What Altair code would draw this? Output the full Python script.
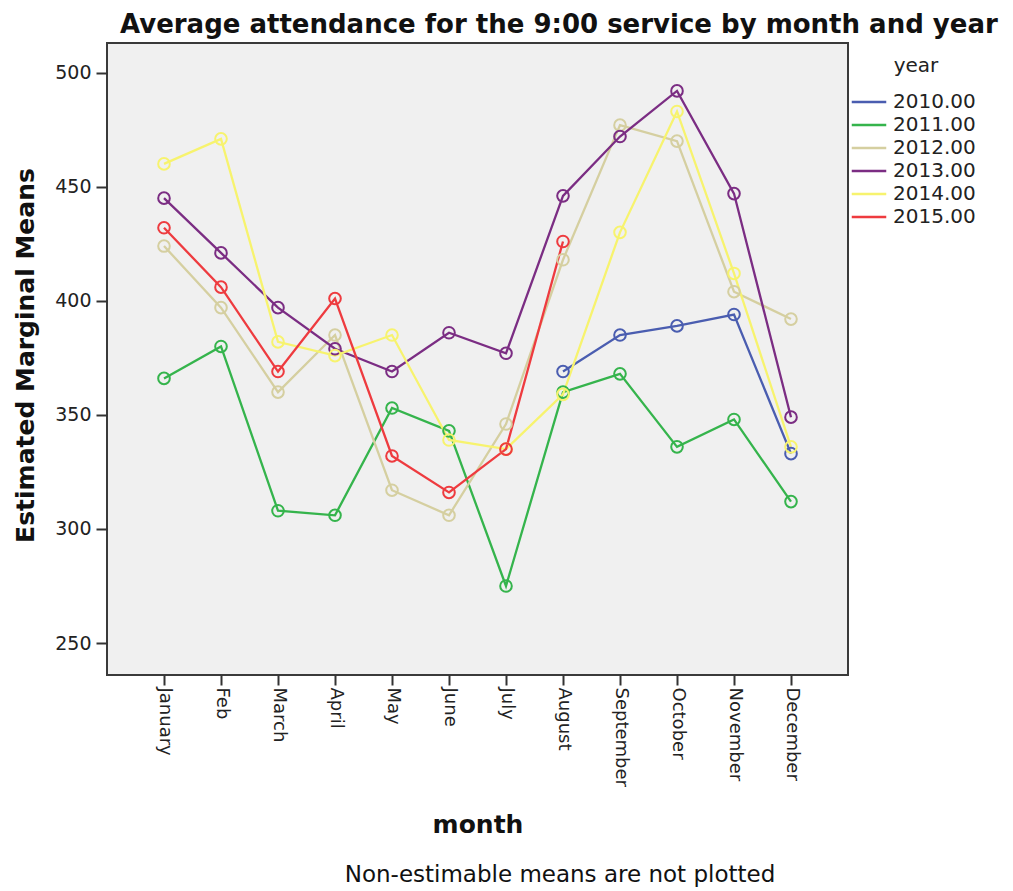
import altair as alt
import pandas as pd

months = ["January", "Feb", "March", "April", "May", "June", "July",
          "August", "September", "October", "November", "December"]
years = ["2010.00", "2011.00", "2012.00", "2013.00", "2014.00", "2015.00"]
colors = ["#4a5db0", "#35b44c", "#d5cfa0", "#7b2d83", "#f7f36e", "#ee3b3f"]

y2010 = [None, None, None, None, None, None, None, 369, 385, 389, 394, 333]
y2011 = [366, 380, 308, 306, 353, 343, 275, 360, 368, 336, 348, 312]
y2012 = [424, 397, 360, 385, 317, 306, 346, 418, 477, 470, 404, 392]
y2013 = [445, 421, 397, 379, 369, 386, 377, 446, 472, 492, 447, 349]
y2014 = [460, 471, 382, 376, 385, 339, 335, 359, 430, 483, 412, 336]
y2015 = [432, 406, 369, 401, 332, 316, 335, 426, None, None, None, None]

y_ticks = [250, 300, 350, 400, 450, 500]
title_text = "Average attendance for the 9:00 service by month and year"
note_text = "Non-estimable means are not plotted"

series = [y2010, y2011, y2012, y2013, y2014, y2015]
rows = []
for yr, vals in zip(years, series):
    for m, v in zip(months, vals):
        if v is not None:
            rows.append({"month": m, "year": yr, "mean": v})
df = pd.DataFrame(rows)

FONT = "DejaVu Sans"

x_enc = alt.X("month:N", sort=months,
              scale=alt.Scale(type="point", padding=1.175),
              axis=alt.Axis(title="month", labelAngle=90, labelAlign="left",
                            labelBaseline="middle", labelFontSize=18,
                            labelPadding=2, tickSize=10, domain=False,
                            titleFontSize=25, titleFontWeight="bold",
                            titleBaseline="alphabetic", titleY=157))
y_enc = alt.Y("mean:Q", scale=alt.Scale(domain=[236, 513], nice=False, zero=False),
              axis=alt.Axis(title="Estimated Marginal Means", values=y_ticks,
                            labelFontSize=19, labelPadding=5, tickSize=11,
                            domain=False, grid=False,
                            titleFontSize=25, titleFontWeight="bold",
                            titleX=-82, titleY=312, titleBaseline="middle",
                            titleAngle=270))
color_enc = alt.Color("year:N", sort=years,
                      scale=alt.Scale(domain=years, range=colors),
                      legend=alt.Legend(title="year", orient="none",
                                        legendX=749, legendY=13,
                                        symbolType="M-1.5,0L1.5,0",
                                        symbolSize=529,
                                        symbolStrokeWidth=2.5,
                                        labelFontSize=20, titleFontSize=20,
                                        titleFontWeight="normal",
                                        titleAnchor="middle",
                                        rowPadding=0, labelOffset=11,
                                        titlePadding=13))

base = alt.Chart(df).encode(x=x_enc, y=y_enc, color=color_enc,
                            detail="year:N")
lines = base.mark_line(strokeWidth=2.3)
points = base.mark_point(shape="circle", filled=False, size=135,
                         strokeWidth=2, opacity=1)

note = alt.Chart(pd.DataFrame({"t": [note_text]})).mark_text(
    font=FONT, fontSize=23, color="#111", align="center",
    baseline="alphabetic").encode(text="t:N", x=alt.value(453),
                                  y=alt.value(839))

chart = alt.layer(lines, points, note).properties(
    width=741, height=632,
    title=alt.TitleParams(title_text, anchor="start", frame="group",
                          dx=13, dy=27, offset=11,
                          baseline="alphabetic", fontSize=26,
                          fontWeight="bold", font=FONT, color="#111"),
    autosize=alt.AutoSizeParams(type="none"),
    padding={"left": 99, "top": 35, "right": 157, "bottom": 215},
).configure(font=FONT).configure_view(
    fill="#f0f0f0", stroke="#3a3a3a", strokeWidth=2
).configure_axis(
    labelFont=FONT, titleFont=FONT, labelColor="#222", titleColor="#111",
    tickColor="#333", tickWidth=2
).configure_legend(labelFont=FONT, titleFont=FONT, labelColor="#222",
                   titleColor="#222")

chart.save("out.html", embed_options={"renderer": "svg", "actions": False})
